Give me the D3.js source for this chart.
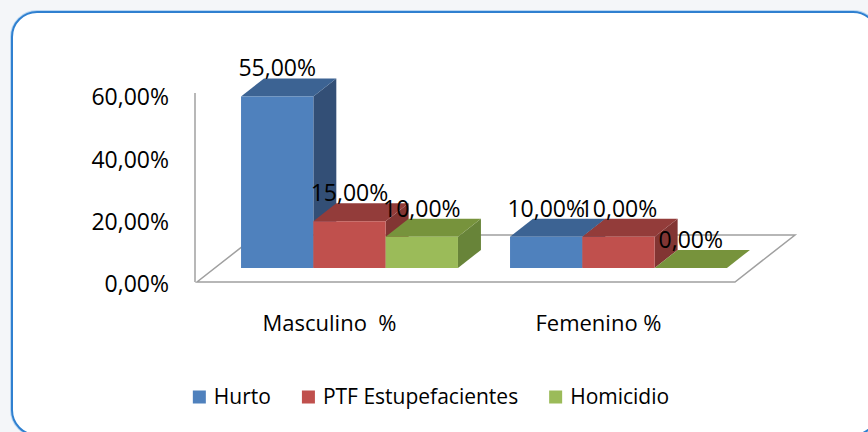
<!DOCTYPE html>
<html>
<head>
<meta charset="utf-8">
<script src="https://cdn.jsdelivr.net/npm/d3@7/dist/d3.min.js"></script>
<style>
  html, body { margin: 0; padding: 0; background: #f4f6f9; }
  svg { display: block; }
  text { font-family: "Open Sans", "Noto Sans", sans-serif; fill: #000; }
</style>
</head>
<body>
<svg id="chart" width="868" height="432"></svg>
<script>
// ---- data ----
const categories = ["Masculino  %", "Femenino %"];
const seriesNames = ["Hurto", "PTF Estupefacientes", "Homicidio"];
const hurto = [55, 10];
const ptfEstupefacientes = [15, 10];
const homicidio = [10, 0];
const yTickValues = [0, 20, 40, 60];

const seriesValues = [hurto, ptfEstupefacientes, homicidio];
const frontColors = ["#4f81bd", "#c0504d", "#9bbb59"];
const topColors   = ["#3c6393", "#933c3a", "#77933c"];
const sideColors  = ["#334f76", "#823533", "#688439"];

const fmt = v => d3.format(".2f")(v).replace(".", ",") + "%";

const svg = d3.select("#chart");

// frame
svg.append("rect").attr("x", 12).attr("y", 12).attr("width", 866).attr("height", 423)
  .attr("rx", 25).attr("fill", "none").attr("stroke", "#b9d6f2").attr("stroke-width", 4);
svg.append("rect").attr("x", 12).attr("y", 12).attr("width", 866).attr("height", 423)
  .attr("rx", 25).attr("fill", "#ffffff").attr("stroke", "#2f80d0").attr("stroke-width", 2);

// ---- scales (front plane) ----
const x = d3.scaleBand().domain(categories).range([197, 735]).paddingInner(0).paddingOuter(0);
const xSub = d3.scaleBand().domain(seriesNames).range([0, x.bandwidth()]).paddingInner(0).paddingOuter(0.36);
const y = d3.scaleLinear().domain([0, 60]).range([282, 95]);

// depth projection
const DX = 60, DY = -47;
const d0 = 0.3, d1 = 0.683;
const P = (px, py, d) => [px + DX * d, py + DY * d];
const poly = pts => "M" + pts.map(p => p.join(",")).join("L") + "Z";

// floor
svg.append("path")
  .attr("d", poly([P(x.range()[0], y(0), 0), P(x.range()[1], y(0), 0), P(x.range()[1], y(0), 1), P(x.range()[0], y(0), 1)]))
  .attr("fill", "#ffffff").attr("stroke", "#a0a0a0").attr("stroke-width", 1.5);

// vertical axis
const yAxis = d3.axisLeft(y).tickValues(yTickValues).tickSize(0).tickPadding(26).tickFormat(fmt);
const gy = svg.append("g").attr("transform", "translate(195,0)").call(yAxis);
gy.select(".domain").attr("stroke", "#a0a0a0").attr("stroke-width", 1.5)
  .attr("d", `M0,${y(0)}V${y(60) - 2}`);
gy.selectAll("text").attr("font-size", 23).attr("font-family", "Open Sans").attr("fill", "#000").attr("dy", "0.38em")
  .attr("y", 1);

// bars
const bars = svg.append("g");
categories.forEach((cat, ci) => {
  seriesNames.forEach((s, si) => {
    const v = seriesValues[si][ci];
    const x1 = x(cat) + xSub(s), x2 = x1 + xSub.bandwidth();
    const yt = y(v), yb = y(0);
    const g = bars.append("g");
    g.append("path").attr("d", poly([P(x2, yt, d0), P(x2, yt, d1), P(x2, yb, d1), P(x2, yb, d0)]))
      .attr("fill", sideColors[si]);
    g.append("path").attr("d", poly([P(x1, yt, d0), P(x2, yt, d0), P(x2, yt, d1), P(x1, yt, d1)]))
      .attr("fill", topColors[si]);
    if (v > 0) {
      g.append("path").attr("d", poly([P(x1, yt, d0), P(x2, yt, d0), P(x2, yb, d0), P(x1, yb, d0)]))
        .attr("fill", frontColors[si]);
    }
  });
});

// data labels
categories.forEach((cat, ci) => {
  seriesNames.forEach((s, si) => {
    const v = seriesValues[si][ci];
    const xc = x(cat) + xSub(s) + xSub.bandwidth() / 2;
    const pt = P(xc, y(v), d0);
    const pb = P(xc, y(v), d1);
    svg.append("text").attr("x", pt[0]).attr("y", pb[1] - 2)
      .attr("text-anchor", "middle").attr("font-size", 23).text(fmt(v));
  });
});

// category labels
svg.append("g").selectAll("text").data(categories).join("text")
  .attr("x", d => x(d) + x.bandwidth() / 2 - 2)
  .attr("y", 323).attr("dy", "0.35em")
  .attr("text-anchor", "middle").attr("font-size", 22)
  .style("white-space", "pre").text(d => d);

// legend
const legend = svg.append("g");
let lx = 0;
seriesNames.forEach((s, si) => {
  const item = legend.append("g").attr("transform", `translate(${lx},0)`);
  item.append("rect").attr("x", 0).attr("y", -6.5).attr("width", 13).attr("height", 13).attr("fill", frontColors[si]);
  const t = item.append("text").attr("x", 21).attr("y", 0).attr("dy", "0.35em").attr("font-size", 21).text(s);
  lx += 21 + t.node().getComputedTextLength() + 31;
});
const legendW = lx - 31;
legend.attr("transform", `translate(${431 - legendW / 2},397)`);
</script>
</body>
</html>
